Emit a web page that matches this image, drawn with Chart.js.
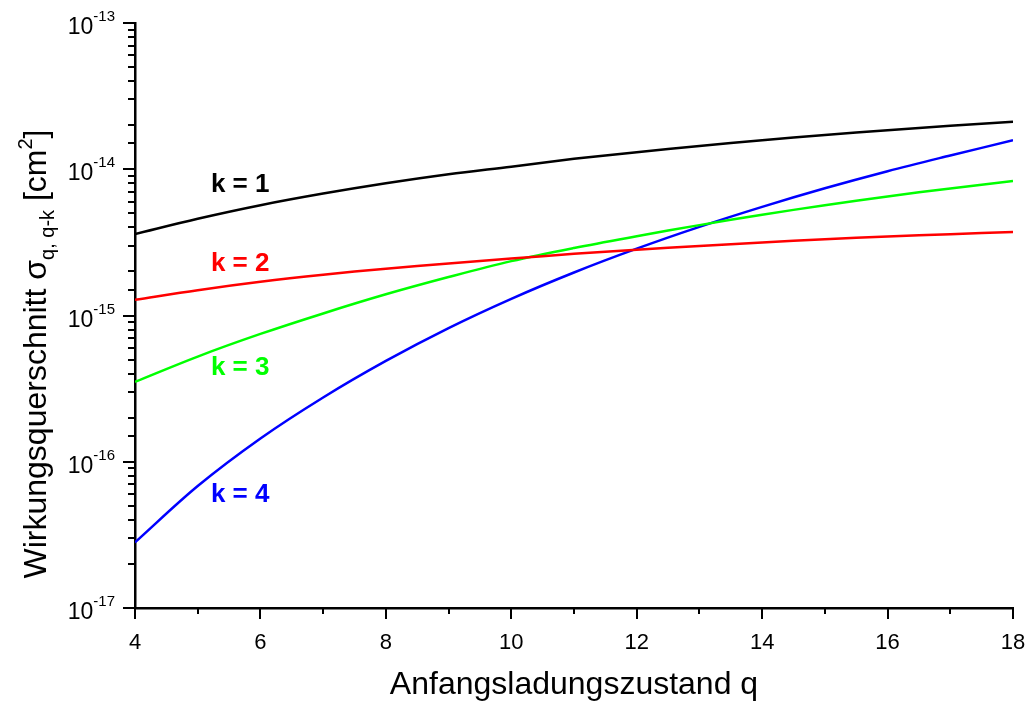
<!DOCTYPE html>
<html>
<head>
<meta charset="utf-8">
<script src="https://cdn.jsdelivr.net/npm/chart.js@4.4.0/dist/chart.umd.min.js"></script>
<style>
  html, body { margin: 0; padding: 0; background: #fff; }
  #wrap { width: 1031px; height: 704px; }
</style>
</head>
<body>
<div id="wrap"><canvas id="chart" width="1031" height="704"></canvas></div>
<script>
// charge state q
const qValues = [4, 5, 6, 7, 8, 9, 10, 11, 12, 13, 14, 15, 16, 17, 18];

// cross sections sigma_{q,q-k} in cm^2
const sigmaK1 = [3.61e-15, 4.59e-15, 5.68e-15, 6.82e-15, 8.02e-15, 9.25e-15, 1.042e-14, 1.178e-14, 1.309e-14, 1.442e-14, 1.578e-14, 1.714e-14, 1.849e-14, 1.982e-14, 2.113e-14];
const sigmaK2 = [1.28e-15, 1.49e-15, 1.70e-15, 1.90e-15, 2.09e-15, 2.27e-15, 2.45e-15, 2.64e-15, 2.82e-15, 2.99e-15, 3.16e-15, 3.32e-15, 3.47e-15, 3.60e-15, 3.72e-15];
const sigmaK3 = [3.52e-16, 5.24e-16, 7.48e-16, 1.033e-15, 1.396e-15, 1.832e-15, 2.355e-15, 2.897e-15, 3.483e-15, 4.150e-15, 4.887e-15, 5.675e-15, 6.516e-15, 7.396e-15, 8.318e-15];
const sigmaK4 = [2.81e-17, 6.82e-17, 1.442e-16, 2.75e-16, 4.89e-16, 8.20e-16, 1.30e-15, 1.968e-15, 2.864e-15, 4.036e-15, 5.534e-15, 7.413e-15, 9.70e-15, 1.242e-14, 1.578e-14];

const seriesNames = ['k = 1', 'k = 2', 'k = 3', 'k = 4'];
const seriesColors = ['#000000', '#ff0000', '#00ff00', '#0000ff'];

// axis ranges / ticks
const xMin = 4, xMax = 18, xStep = 2;
const xMinorTicks = [5, 7, 9, 11, 13, 15, 17];
const yMin = 1e-17, yMax = 1e-13;

const FONT = '"Liberation Sans", Arial, Helvetica, sans-serif';

const toPoints = ys => qValues.map((q, i) => ({ x: q, y: ys[i] }));

// where the "k = n" labels sit (data coordinates, left / baseline)
const curveLabels = [
    { q: 5.21, s: 6.95e-15 },
    { q: 5.21, s: 2.0e-15 },
    { q: 5.21, s: 3.92e-16 },
    { q: 5.21, s: 5.33e-17 }
];

// draws tick marks, the 10^n labels, axis title and curve labels
const decorPlugin = {
    id: 'decor',
    afterDraw(chart) {
        const ctx = chart.ctx;
        const xs = chart.scales.x;
        const ys = chart.scales.y;
        const area = chart.chartArea;

        ctx.save();
        ctx.strokeStyle = '#000';
        ctx.lineWidth = 2;

        // x ticks (outward, down)
        xs.ticks.forEach(t => {
            const px = Math.round(xs.getPixelForValue(t.value));
            ctx.beginPath();
            ctx.moveTo(px, area.bottom);
            ctx.lineTo(px, area.bottom + 11);
            ctx.stroke();
        });
        xMinorTicks.forEach(v => {
            const px = Math.round(xs.getPixelForValue(v));
            ctx.beginPath();
            ctx.moveTo(px, area.bottom);
            ctx.lineTo(px, area.bottom + 6);
            ctx.stroke();
        });

        // y ticks (outward, left) + labels on decades
        ys.ticks.forEach(t => {
            const py = Math.round(ys.getPixelForValue(t.value));
            const exp = Math.round(Math.log10(t.value));
            const isMajor = Math.abs(t.value / Math.pow(10, exp) - 1) < 1e-6;
            ctx.beginPath();
            ctx.moveTo(area.left, py);
            ctx.lineTo(area.left - (isMajor ? 12 : 7), py);
            ctx.stroke();
            if (isMajor) {
                ctx.fillStyle = '#000';
                ctx.textBaseline = 'alphabetic';
                ctx.textAlign = 'left';
                ctx.font = '15px ' + FONT;
                const expTxt = String(exp);
                const ew = ctx.measureText(expTxt).width;
                const right = area.left - 20;
                ctx.fillText(expTxt, right - ew, py - 2);
                ctx.font = '23px ' + FONT;
                const bw = ctx.measureText('10').width;
                ctx.fillText('10', right - ew - bw, py + 11);
            }
        });

        // y axis title: Wirkungsquerschnitt σ_{q, q-k} [cm^2]
        const parts = [
            { t: 'Wirkungsquerschnitt \u03c3', size: 32, dy: 0 },
            { t: 'q, q-k', size: 20, dy: 8 },
            { t: ' [cm', size: 32, dy: 0 },
            { t: '2', size: 20, dy: -14 },
            { t: ']', size: 32, dy: 0 }
        ];
        let total = 0;
        parts.forEach(p => {
            ctx.font = p.size + 'px ' + FONT;
            p.w = ctx.measureText(p.t).width;
            total += p.w;
        });
        ctx.translate(46, 354);
        ctx.rotate(-Math.PI / 2);
        ctx.fillStyle = '#000';
        ctx.textAlign = 'left';
        ctx.textBaseline = 'alphabetic';
        let cx = -total / 2;
        parts.forEach(p => {
            ctx.font = p.size + 'px ' + FONT;
            ctx.fillText(p.t, cx, p.dy);
            cx += p.w;
        });
        ctx.restore();

        // curve labels
        ctx.save();
        ctx.font = 'bold 26px ' + FONT;
        ctx.textAlign = 'left';
        ctx.textBaseline = 'alphabetic';
        curveLabels.forEach((l, i) => {
            ctx.fillStyle = seriesColors[i];
            ctx.fillText(seriesNames[i], xs.getPixelForValue(l.q), ys.getPixelForValue(l.s));
        });
        ctx.restore();
    }
};

const allSeries = [sigmaK1, sigmaK2, sigmaK3, sigmaK4];

new Chart(document.getElementById('chart'), {
    type: 'line',
    data: {
        datasets: allSeries.map((s, i) => ({
            label: seriesNames[i],
            data: toPoints(s),
            borderColor: seriesColors[i],
            borderWidth: 2.5,
            pointRadius: 0,
            tension: 0.35,
            fill: false
        }))
    },
    options: {
        responsive: false,
        animation: false,
        devicePixelRatio: 1,
        layout: { padding: { top: 23, right: 18, left: 0, bottom: 0 } },
        plugins: {
            legend: { display: false },
            tooltip: { enabled: false }
        },
        scales: {
            x: {
                type: 'linear',
                min: xMin,
                max: xMax,
                ticks: {
                    stepSize: xStep,
                    color: '#000',
                    font: { family: FONT, size: 22 },
                    padding: 22,
                    maxRotation: 0
                },
                grid: { display: false, drawTicks: false },
                border: { display: true, color: '#000', width: 2.5 },
                title: {
                    display: true,
                    text: 'Anfangsladungszustand q',
                    color: '#000',
                    font: { family: FONT, size: 32 },
                    padding: { top: 0, bottom: 0 }
                },
                afterFit: scale => {
                    scale.height = 96;
                    scale.paddingLeft = 0;
                    scale.paddingRight = 0;
                }
            },
            y: {
                type: 'logarithmic',
                min: yMin,
                max: yMax,
                ticks: { display: false },
                grid: { display: false, drawTicks: false },
                border: { display: true, color: '#000', width: 2.5 },
                afterFit: scale => {
                    scale.width = 135;
                    scale.paddingTop = 0;
                    scale.paddingBottom = 0;
                }
            }
        }
    },
    plugins: [decorPlugin]
});
</script>
</body>
</html>
